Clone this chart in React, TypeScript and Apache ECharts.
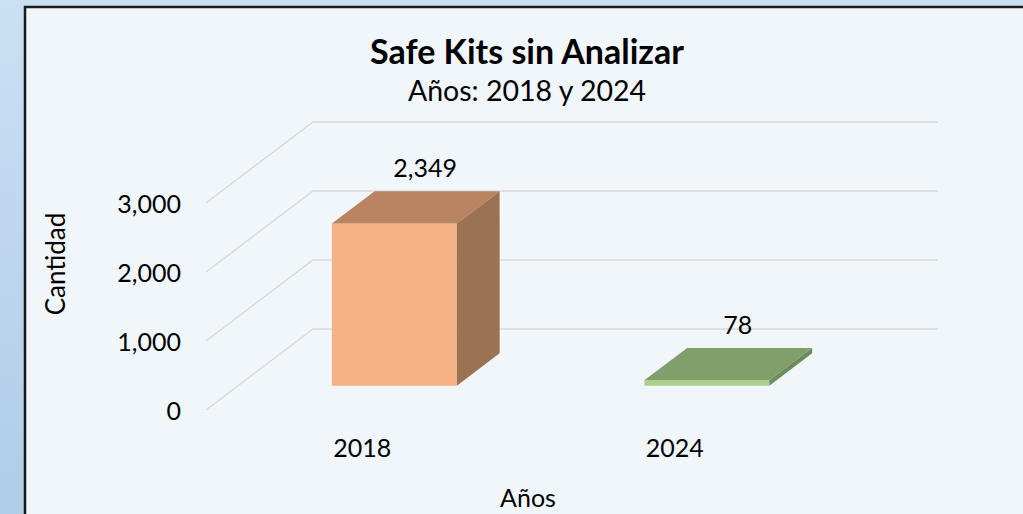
import React, { useEffect, useRef } from "react";
import * as echarts from "echarts";

const categories = ["2018", "2024"];
const values = [2349, 78];
const yTicks = [0, 1000, 2000, 3000];
const frontColors = ["#F4B183", "#A9D18E"];
const topColors = ["#BA8462", "#809F6B"];
const sideColors = ["#9C7352", "#6E8B5B"];

const FONT = "Lato, 'Open Sans', sans-serif";
const DX = 107;
const DY = -81;
const F0 = 0.3;
const F1 = 0.7;

function fmt(v: number) {
  return v.toLocaleString("en-US");
}

export default function App() {
  const ref = useRef<HTMLDivElement>(null);
  useEffect(() => {
    if (!ref.current) return;
    const chart = echarts.init(ref.current, null, { renderer: "svg" });
    const option: any = {
      animation: false,
      graphic: [
        {
          type: "rect",
          z: -100,
          silent: true,
          shape: { x: 0, y: 0, width: 1023, height: 514 },
          style: {
            fill: new echarts.graphic.LinearGradient(0, 0, 0, 1, [
              { offset: 0, color: "#cae0f4" },
              { offset: 1, color: "#b0cce8" },
            ]),
          },
        },
        {
          type: "rect",
          z: -99,
          silent: true,
          shape: { x: 25, y: 7, width: 1010, height: 520 },
          style: { fill: "#f1f6fb", stroke: "#1a1a1a", lineWidth: 2.5 },
        },
        {
          type: "text",
          x: 55,
          y: 264,
          rotation: Math.PI / 2,
          style: {
            text: "Cantidad",
            font: `26px ${FONT}`,
            fill: "#000",
            align: "center",
            verticalAlign: "middle",
          },
        },
        {
          type: "text",
          x: 528,
          y: 497,
          style: {
            text: "Años",
            font: `25px ${FONT}`,
            fill: "#000",
            align: "center",
            verticalAlign: "middle",
          },
        },
      ],
      title: {
        text: "Safe Kits sin Analizar",
        subtext: "Años: 2018 y 2024",
        left: 522,
        textAlign: "center",
        top: 28,
        itemGap: 8,
        textStyle: { fontFamily: FONT, fontWeight: "bold", fontSize: 34, color: "#000" },
        subtextStyle: { fontFamily: FONT, fontSize: 28.5, color: "#000" },
      },
      grid: { left: 206, right: 192, top: 203, bottom: 104 },
      xAxis: {
        type: "category",
        data: categories,
        axisLine: { show: false },
        axisTick: { show: false },
        axisLabel: { fontFamily: FONT, fontSize: 25, color: "#000", margin: 24 },
      },
      yAxis: {
        type: "value",
        min: 0,
        max: 3000,
        interval: 1000,
        splitLine: { show: false },
        axisLine: { show: false },
        axisTick: { show: false },
        axisLabel: {
          fontFamily: FONT,
          fontSize: 25,
          color: "#000",
          margin: 25,
          formatter: (v: number) => fmt(v),
        },
      },
      series: [
        {
          type: "custom",
          z: 1,
          silent: true,
          data: yTicks.map((t) => [0, t]),
          encode: { x: 0, y: 1 },
          renderItem: (params: any, api: any) => {
            const cs = params.coordSys;
            const y = api.coord([0, api.value(1)])[1];
            const left = cs.x;
            const right = cs.x + cs.width;
            return {
              type: "polyline",
              shape: {
                points: [
                  [left, y],
                  [left + DX, y + DY],
                  [right + DX, y + DY],
                ],
              },
              style: { stroke: "#d9d9d9", lineWidth: 1.5, fill: null },
            };
          },
        },
        {
          type: "custom",
          z: 3,
          data: values.map((v, i) => [i, v]),
          encode: { x: 0, y: 1 },
          renderItem: (params: any, api: any) => {
            const ci = api.value(0);
            const v = api.value(1);
            const base = api.coord([ci, 0]);
            const topP = api.coord([ci, v]);
            const bw = api.size([1, 0])[0] * 0.4;
            const fx = base[0] + DX * F0 - bw / 2;
            const fy0 = base[1] + DY * F0;
            const fy1 = topP[1] + DY * F0;
            const ddx = DX * (F1 - F0);
            const ddy = DY * (F1 - F0);
            return {
              type: "group",
              children: [
                {
                  type: "rect",
                  shape: { x: fx, y: fy1, width: bw, height: fy0 - fy1 },
                  style: { fill: frontColors[ci] },
                },
                {
                  type: "polygon",
                  shape: {
                    points: [
                      [fx, fy1],
                      [fx + bw, fy1],
                      [fx + bw + ddx, fy1 + ddy],
                      [fx + ddx, fy1 + ddy],
                    ],
                  },
                  style: { fill: topColors[ci] },
                },
                {
                  type: "polygon",
                  shape: {
                    points: [
                      [fx + bw, fy1],
                      [fx + bw + ddx, fy1 + ddy],
                      [fx + bw + ddx, fy0 + ddy],
                      [fx + bw, fy0],
                    ],
                  },
                  style: { fill: sideColors[ci] },
                },
                {
                  type: "text",
                  x: fx + bw / 2 + ddx * 0.72,
                  y: fy1 + ddy - 24,
                  style: {
                    text: fmt(v),
                    font: `25px ${FONT}`,
                    fill: "#000",
                    align: "center",
                    verticalAlign: "middle",
                  },
                },
              ],
            };
          },
        },
      ],
    };
    chart.setOption(option);
    return () => chart.dispose();
  }, []);
  return (
    <div
      ref={ref}
      style={{ position: "absolute", left: 0, top: 0, width: 1023, height: 514 }}
    />
  );
}
